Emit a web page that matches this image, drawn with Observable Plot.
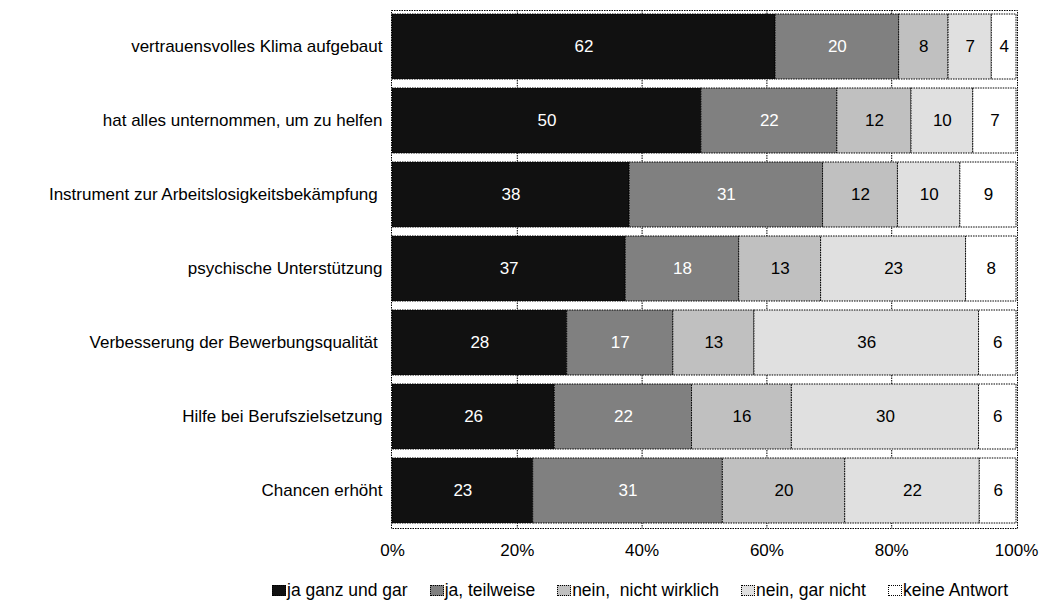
<!DOCTYPE html>
<html>
<head>
<meta charset="utf-8">
<script src="https://cdn.jsdelivr.net/npm/d3@7"></script>
<script src="https://cdn.jsdelivr.net/npm/@observablehq/plot@0.6"></script>
<style>
  html, body { margin: 0; padding: 0; background: #fff; }
  body { width: 1041px; height: 600px; overflow: hidden; font-family: "Liberation Sans", Arial, sans-serif; }
  #chart svg { display: block; }
  #legend {
    display: flex; justify-content: center; align-items: center;
    font-size: 17.5px; line-height: 20px; color: #000; height: 20px; margin-left: 239px; margin-right: 0;
    gap: 22px; white-space: pre;
  }
  #legend .item { display: flex; align-items: center; }
  #legend .sw {
    display: inline-block; width: 12px; height: 9px; margin-right: 1px;
    border: 1px dotted #000;
  }
</style>
</head>
<body>
<div id="chart"></div>
<div id="legend"></div>
<script>
// Survey statements (rows, top to bottom)
const categories = [
  "vertrauensvolles Klima aufgebaut",
  "hat alles unternommen, um zu helfen",
  "Instrument zur Arbeitslosigkeitsbekämpfung ",
  "psychische Unterstützung",
  "Verbesserung der Bewerbungsqualität ",
  "Hilfe bei Berufszielsetzung",
  "Chancen erhöht"
];

// Answer categories, in stacking order
const seriesNames = ["ja ganz und gar", "ja, teilweise", "nein,  nicht wirklich", "nein, gar nicht", "keine Antwort"];
const seriesColors = ["#111111", "#808080", "#c0c0c0", "#e0e0e0", "#ffffff"];
const labelColors = ["#ffffff", "#ffffff", "#000000", "#000000", "#000000"];

// Percentages per answer, one value per statement
const jaGanzUndGar = [62, 50, 38, 37, 28, 26, 23];
const jaTeilweise = [20, 22, 31, 18, 17, 22, 31];
const neinNichtWirklich = [8, 12, 12, 13, 13, 16, 20];
const neinGarNicht = [7, 10, 10, 23, 36, 30, 22];
const keineAntwort = [4, 7, 9, 8, 6, 6, 6];

const xTicks = [0, 0.2, 0.4, 0.6, 0.8, 1];

const seriesValues = [jaGanzUndGar, jaTeilweise, neinNichtWirklich, neinGarNicht, keineAntwort];
const rows = [];
seriesNames.forEach((s, i) => {
  categories.forEach((c, j) => {
    rows.push({statement: c, answer: s, value: seriesValues[i][j], labelColor: labelColors[i]});
  });
});

const dotted = "1.5,1";
const stackOpts = {offset: "normalize", order: null};

const chart = Plot.plot({
  width: 1041,
  height: 580,
  marginLeft: 392,
  marginRight: 25,
  marginTop: 14,
  marginBottom: 56,
  style: {fontFamily: "'Liberation Sans', Arial, sans-serif", fontSize: "17px", color: "#000", background: "#fff"},
  x: {domain: [0, 1], ticks: xTicks, tickFormat: d3.format(".0%"), label: null},
  y: {domain: categories, label: null, paddingInner: 0.115, paddingOuter: 0},
  color: {domain: seriesNames, range: seriesColors},
  marks: [
    Plot.gridX(xTicks.slice(1, -1), {stroke: "#000", strokeOpacity: 1, strokeDasharray: dotted, insetTop: -4, insetBottom: -4}),
    Plot.barX(rows, Plot.stackX({...stackOpts, x: "value", y: "statement", fill: "answer", z: "answer",
      stroke: "#000", strokeWidth: 1, strokeDasharray: dotted})),
    Plot.text(rows, Plot.stackX({...stackOpts, x: "value", y: "statement", z: "answer",
      text: d => String(d.value), fill: "labelColor", fontSize: 17})),
    Plot.frame({stroke: "#000", strokeDasharray: dotted, insetTop: -4, insetBottom: -4, insetLeft: -1, insetRight: -1}),
    Plot.axisX({ticks: xTicks, tickFormat: d3.format(".0%"), tickSize: 0, tickPadding: 19, fontSize: 17, label: null}),
    Plot.axisY({tickSize: 0, tickPadding: 10, fontSize: 17, label: null})
  ]
});
document.getElementById("chart").appendChild(chart);

// Legend below the chart
const legend = document.getElementById("legend");
seriesNames.forEach((s, i) => {
  const item = document.createElement("span");
  item.className = "item";
  const sw = document.createElement("span");
  sw.className = "sw";
  sw.style.background = seriesColors[i];
  item.appendChild(sw);
  item.appendChild(document.createTextNode(s));
  legend.appendChild(item);
});
</script>
</body>
</html>
